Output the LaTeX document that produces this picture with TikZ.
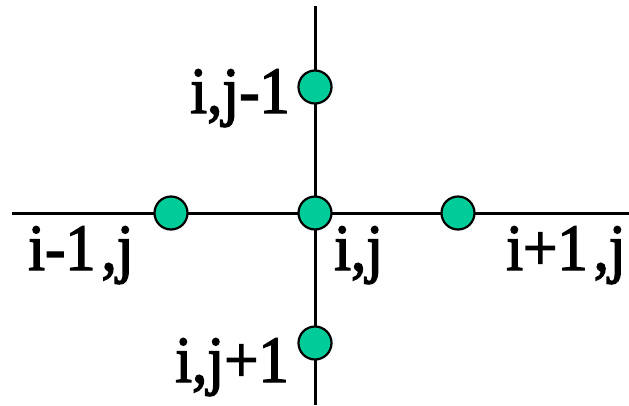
\documentclass[tikz,border=0pt]{standalone}
\usepackage{fontspec}
\setmainfont{Liberation Serif}
\newfontfamily\lblfont[FakeStretch=0.92, FakeBold=2.2]{Liberation Serif}
\usepackage{xcolor}
\usepackage{tikz}
\usetikzlibrary{positioning}

\definecolor{gridpt}{RGB}{0,204,153}

\begin{document}
\begin{tikzpicture}[
  x=1pt, y=-1pt,
  axis/.style={draw, line width=3pt},
  dot/.style={circle, draw, line width=2.2pt, fill=gridpt, minimum size=33pt, inner sep=0pt},
  lbl/.style={font=\lblfont\fontsize{66}{78}\selectfont, inner sep=0pt}
]
  \useasboundingbox (0,0) rectangle (629,405);

  % Stencil axes
  \coordinate (top) at (315,6);
  \coordinate (bottom) at (315,405);
  \coordinate (left) at (12,213);
  \coordinate (right) at (629,213);
  \draw[axis] (top) -- (bottom);
  \draw[axis] (left) -- (right);

  % Grid points
  \node[dot] (c) at (315,213) {};
  \node[dot] (n) at (315,87) {};
  \node[dot] (s) at (315,343) {};
  \node[dot] (w) at (171,213) {};
  \node[dot] (e) at (458,213) {};

  % Labels
  \node[lbl, anchor=base east] (ln) at (290,113) {i,j-1};
  \node[lbl, anchor=base east] (ls) at (289,382) {i,j+1};
  \node[lbl, anchor=base west] (lw) at (28,270) {i-1\kern6pt,j};
  \node[lbl, anchor=base west] (lc) at (334,270) {i,j};
  \node[lbl, anchor=base east] (le) at (626,270) {i+1\kern6pt,j};

\end{tikzpicture}
\end{document}
